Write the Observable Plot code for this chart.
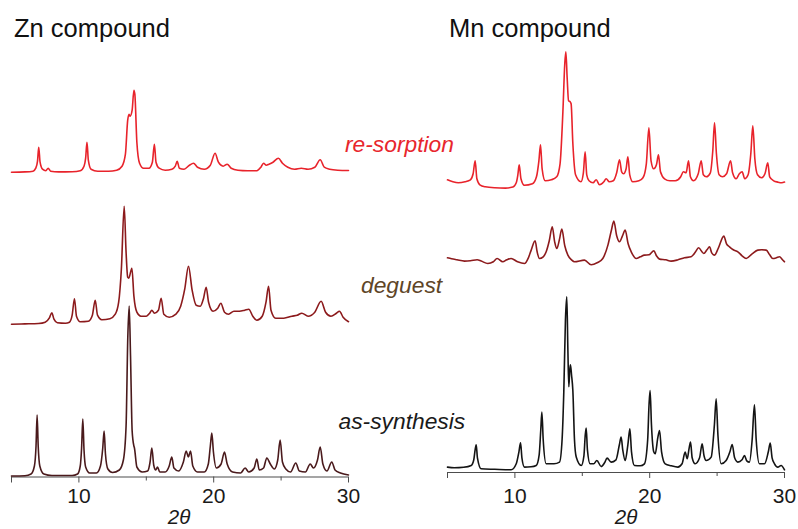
<!DOCTYPE html>
<html><head><meta charset="utf-8">
<script src="https://cdn.jsdelivr.net/npm/d3@7"></script>
<script src="https://cdn.jsdelivr.net/npm/@observablehq/plot@0.6"></script>
<style>
body{margin:0;background:#fff;}
#root{position:relative;width:798px;height:529px;overflow:hidden;background:#fff;font-family:"Liberation Sans",Arial,Helvetica,sans-serif;}
.t{position:absolute;white-space:nowrap;line-height:1;z-index:2;}
.panel{position:absolute;top:0;z-index:1;}
</style></head><body><div id="root"></div><script>
// Diffraction angle ticks (2θ, degrees)
const majorTicks = [5, 10, 20, 30];
const minorTicks = [15, 25];
const tickLabels = [10, 20, 30];

// Series names / colours
const seriesNames = ["re-sorption", "deguest", "as-synthesis"];
const panelTitles = ["Zn compound", "Mn compound"];

// Stacking offsets of each pattern (a.u.)
const znOffsets = [304.8, 152.8, 1.0];
const mnOffsets = [283.7, 206.7, 2.7];

// Zn compound: [2θ, intensity a.u.]
const znRes = [[5.0,0],[6.0,0.3],[6.6,1],[6.8,4],[6.93,11],[7.02,25],[7.12,10],[7.3,3],[7.55,1.5],[7.72,4],[7.9,1],[8.5,0.3],[9.5,0.5],[10.1,1.5],[10.38,6],[10.5,14],[10.6,30],[10.7,12],[10.9,3],[11.4,1],[12.2,1],[12.8,2],[13.2,6],[13.45,18],[13.62,52],[13.72,58],[13.8,56],[13.95,62],[14.08,82],[14.15,78],[14.3,30],[14.5,9],[14.8,4],[15.2,4],[15.45,10],[15.6,28],[15.72,10],[15.95,4],[16.4,2],[16.9,3],[17.15,6],[17.29,11],[17.45,4],[17.8,3],[18.2,7],[18.5,9],[18.8,5],[19.3,3],[19.75,7],[20.1,19],[20.35,10],[20.7,6],[21.0,8],[21.3,4],[21.8,2],[22.5,1.5],[23.2,1.5],[23.5,5],[23.7,9],[23.9,7],[24.1,8],[24.4,10],[24.8,14],[25.1,9],[25.5,5],[26.0,3],[26.5,4],[27.0,3],[27.5,5],[27.9,12.5],[28.2,5],[28.6,3],[29.2,2],[30,1.7]];
const znDeg = [[5.0,0],[6.0,0.3],[7.0,0.7],[7.5,2],[7.8,6],[7.99,11.5],[8.15,5],[8.4,1.5],[9.0,1],[9.3,2],[9.5,9],[9.67,25.5],[9.82,8],[10.1,2.5],[10.7,3],[11.0,9],[11.21,24],[11.38,9],[11.7,4.5],[12.3,5.5],[12.7,10],[12.95,22],[13.15,55],[13.36,118],[13.5,72],[13.62,47],[13.7,46],[13.93,56],[14.08,28],[14.3,12],[14.6,8],[15.0,8],[15.25,11],[15.41,14],[15.6,11],[15.9,14],[16.1,26],[16.3,10],[16.7,7],[17.2,10],[17.55,18],[17.85,35],[18.13,58],[18.4,34],[18.7,19],[19.0,18],[19.25,26],[19.44,37],[19.62,22],[19.95,13],[20.3,16],[20.53,21],[20.8,12],[21.1,10],[21.5,13],[21.9,13],[22.3,14],[22.6,15],[22.9,8],[23.2,4],[23.6,8],[23.88,22],[24.07,38],[24.25,14],[24.6,6],[25.2,6],[25.8,8],[26.2,9],[26.54,11],[27.0,8],[27.5,12],[27.97,23],[28.3,12],[28.7,8],[29.1,11],[29.33,13],[29.6,7],[30,2.5]];
const znAs = [[5.0,0],[6.0,0.3],[6.45,2],[6.7,10],[6.82,30],[6.9,61],[6.98,30],[7.1,10],[7.4,2],[8,0.5],[9.5,0.5],[9.9,2],[10.1,10],[10.2,28],[10.29,57],[10.38,26],[10.5,9],[10.8,3],[11.3,3],[11.6,10],[11.77,28],[11.87,45],[11.97,22],[12.15,7],[12.5,3.5],[13.0,6],[13.3,16],[13.5,50],[13.63,140],[13.73,170],[13.83,120],[13.95,45],[14.08,30],[14.12,28],[14.3,9],[14.7,4],[15.1,5],[15.28,14],[15.41,28],[15.55,11],[15.7,6],[15.83,9],[16.0,4],[16.4,4],[16.7,10],[16.89,19],[17.05,8],[17.4,5],[17.75,14],[17.96,25],[18.12,19],[18.28,25],[18.45,10],[18.8,4],[19.3,4],[19.6,12],[19.75,30],[19.86,43],[19.98,24],[20.2,8],[20.55,12],[20.8,24],[21.0,12],[21.4,4],[22.0,3],[22.33,8],[22.6,4],[23.0,8],[23.2,17],[23.38,6],[23.7,8],[23.94,18],[24.2,12],[24.5,7],[24.75,16],[24.93,36],[25.1,14],[25.35,7],[25.7,4],[26.09,13],[26.35,5],[26.8,4],[27.16,12],[27.4,8],[27.7,16],[27.9,29],[28.1,12],[28.4,5],[28.76,14],[29.0,6],[29.4,3],[30,1]];

// Mn compound: [2θ, intensity a.u.]
const mnRes = [[5.0,9],[5.4,7],[5.8,6],[6.3,7],[6.7,9],[6.9,15],[7.05,28],[7.18,10],[7.4,4],[7.8,2],[8.5,1],[9.3,0.7],[9.85,1.7],[10.1,6],[10.22,14],[10.32,24],[10.45,10],[10.7,3.5],[11.3,5],[11.6,12],[11.78,28],[11.9,44],[12.02,20],[12.25,8],[12.7,9],[13.1,12],[13.35,25],[13.56,77],[13.7,125],[13.78,137],[13.88,110],[13.98,88],[14.1,87],[14.17,85],[14.3,45],[14.5,14],[14.9,7],[15.08,16],[15.21,37],[15.33,14],[15.5,8],[15.8,6],[16.03,9],[16.28,4],[16.6,7],[16.77,10],[17.0,7],[17.3,8],[17.55,16],[17.76,29],[17.92,17],[18.06,15],[18.25,20],[18.38,32],[18.52,14],[18.75,7],[19.2,8],[19.5,11],[19.75,25],[19.94,61],[20.1,28],[20.3,20],[20.5,24],[20.65,34],[20.8,17],[21.1,10],[21.5,8],[21.9,8],[22.3,12],[22.5,17],[22.7,16],[22.88,28],[23.02,12],[23.25,8],[23.6,15],[23.82,28],[23.98,14],[24.2,12],[24.5,16],[24.68,38],[24.81,66],[24.95,35],[25.15,14],[25.4,12],[25.7,15],[26.0,28],[26.15,16],[26.41,10],[26.65,15],[26.86,17],[27.05,10],[27.3,14],[27.5,35],[27.65,63],[27.8,30],[28.0,14],[28.3,11],[28.55,15],[28.76,26],[28.9,12],[29.2,8],[29.5,6.7],[29.8,6],[30,6.7]];
const mnDeg = [[5.0,8],[5.3,7],[5.7,6],[6.26,4.7],[6.7,5],[7.2,6],[7.5,4.7],[7.99,2.3],[8.4,4],[8.68,7.3],[9.1,4],[9.4,6],[9.72,7.3],[10.2,4],[10.71,2.3],[11.0,8],[11.21,15.7],[11.5,25],[11.65,14],[11.82,7.3],[12.1,9],[12.32,14],[12.55,25],[12.77,39],[12.95,24],[13.11,17.3],[13.3,26],[13.48,36.7],[13.7,20],[13.93,10.7],[14.2,6],[14.42,4],[15.16,5.7],[15.66,1],[16.1,3],[16.52,7.3],[16.9,20.7],[17.15,35],[17.34,44.7],[17.55,30],[17.76,24],[17.98,30],[18.18,35.7],[18.4,22],[18.63,14],[19.0,7.3],[19.3,9],[19.61,10.7],[19.95,11],[20.31,15],[20.5,10],[20.73,6.7],[21.2,6],[21.59,4.7],[22.1,6],[22.58,8],[23.07,9],[23.4,14],[23.62,18],[24.01,12.3],[24.25,16],[24.44,19],[24.6,13],[24.81,10.7],[25.1,18],[25.5,29.7],[25.7,22],[25.92,19],[26.2,16],[26.54,14],[26.85,10],[27.16,7.3],[27.6,12],[28.02,15.7],[28.3,16],[28.64,15.7],[28.9,11],[29.13,7.3],[29.4,8],[29.63,9],[29.85,6],[30,4]];
const mnAs = [[5.0,2.7],[5.5,2],[6.2,2.5],[6.76,4.3],[6.95,10],[7.05,20],[7.13,25],[7.22,12],[7.5,1],[8.5,0.5],[9.72,0],[10.1,6],[10.3,18],[10.42,27],[10.52,12],[10.71,2.7],[11.2,3],[11.58,4.3],[11.8,15],[11.92,40],[12.0,57.7],[12.1,30],[12.32,6],[12.9,6],[13.31,7.7],[13.5,30],[13.63,79],[13.75,150],[13.85,173],[13.93,120],[14.0,83],[14.07,100],[14.12,105],[14.2,95],[14.3,79],[14.42,30],[14.55,12.7],[14.92,4.3],[15.12,14],[15.22,35],[15.29,41.7],[15.38,20],[15.58,6],[15.85,6],[16.08,9.3],[16.4,3.3],[16.65,7],[16.84,11.7],[17.14,7.7],[17.5,10],[17.75,25],[17.88,32.7],[18.0,20],[18.18,9.3],[18.38,25],[18.53,41],[18.65,18],[18.87,4.3],[19.3,4],[19.61,6],[19.85,30],[19.95,65],[20.03,79.3],[20.13,45],[20.3,18],[20.41,16],[20.6,32],[20.73,39.3],[20.88,18],[21.15,6],[21.6,4],[22.09,2.7],[22.4,6],[22.63,17.7],[22.78,11],[22.93,22],[23.03,27.7],[23.15,12],[23.37,6],[23.7,12],[23.89,26],[24.03,14],[24.19,9.3],[24.56,12.7],[24.8,45],[24.93,71],[25.06,35],[25.3,6],[25.67,9.3],[25.95,18],[26.12,25.3],[26.3,12],[26.54,7.7],[26.85,10],[27.03,14.3],[27.2,9],[27.4,7.7],[27.6,30],[27.77,65],[27.9,30],[28.14,6],[28.52,6],[28.8,18],[28.94,26.7],[29.08,12],[29.26,6],[29.5,2.7],[29.75,4.3],[30,0]];

const root = document.getElementById("root");

function panel(sets, offsets, colors, o) {
  const marks = [
    Plot.ruleY([0], {stroke: "#4d4d4d", strokeWidth: 1.2}),
    Plot.axisX({ticks: majorTicks, tickSize: 6, tickPadding: o.tickPadding, stroke: "#4d4d4d",
      tickFormat: d => tickLabels.includes(d) ? String(d) : "", fill: "#1a1a1a", fontSize: 21, label: null}),
    Plot.axisX({ticks: minorTicks, tickSize: 4, stroke: "#4d4d4d", tickFormat: () => "", label: null})
  ];
  sets.forEach((pts, i) => {
    marks.push(Plot.line(pts, {x: d => d[0], y: d => d[1] + offsets[i], stroke: colors[i], strokeWidth: 1.6, curve: "monotone-x"}));
  });
  const svg = Plot.plot({
    width: o.width, height: 529,
    marginLeft: o.ml, marginRight: o.mr, marginTop: 20, marginBottom: o.mb,
    x: {domain: [5, 30]},
    y: {domain: [0, o.yMax], axis: null},
    style: {fontFamily: '"Liberation Sans", Arial, sans-serif', fontSize: "21px", background: "transparent", overflow: "visible"},
    marks
  });
  svg.classList.add("panel");
  svg.style.left = o.left + "px";
  root.appendChild(svg);
}

panel([znRes, znDeg, znAs], znOffsets, ["#e8232b", "#8c1a1c", "#4a1a1c"],
  {left: 0, width: 400, ml: 11, mr: 52, mb: 52.5, yMax: 456.5, tickPadding: 5});
panel([mnRes, mnDeg, mnAs], mnOffsets, ["#e8232b", "#8c1a1c", "#141414"],
  {left: 400, width: 398, ml: 47, mr: 14, mb: 57, yMax: 452, tickPadding: 10});

function label(text, x, baseline, size, color, italic, center) {
  const d = document.createElement("div");
  d.className = "t";
  d.textContent = text;
  d.style.fontSize = size + "px";
  d.style.color = color;
  d.style.left = x + "px";
  d.style.top = (baseline - 0.8465 * size) + "px";
  if (italic) d.style.fontStyle = "italic";
  if (center) d.style.transform = "translateX(-50%)";
  root.appendChild(d);
}
label(panelTitles[0], 14, 37.5, 25.5, "#111", false, false);
label(panelTitles[1], 449, 37.5, 25.5, "#111", false, false);
label(seriesNames[0], 345, 152.5, 22.8, "#e8262d", true, false);
label(seriesNames[1], 361, 293, 22.8, "#5e4527", true, false);
label(seriesNames[2], 338.5, 429, 22.8, "#1a1a1a", true, false);
label("2θ", 179, 524, 20.5, "#1a1a1a", true, true);
label("2θ", 626, 524, 20.5, "#1a1a1a", true, true);
</script></body></html>
